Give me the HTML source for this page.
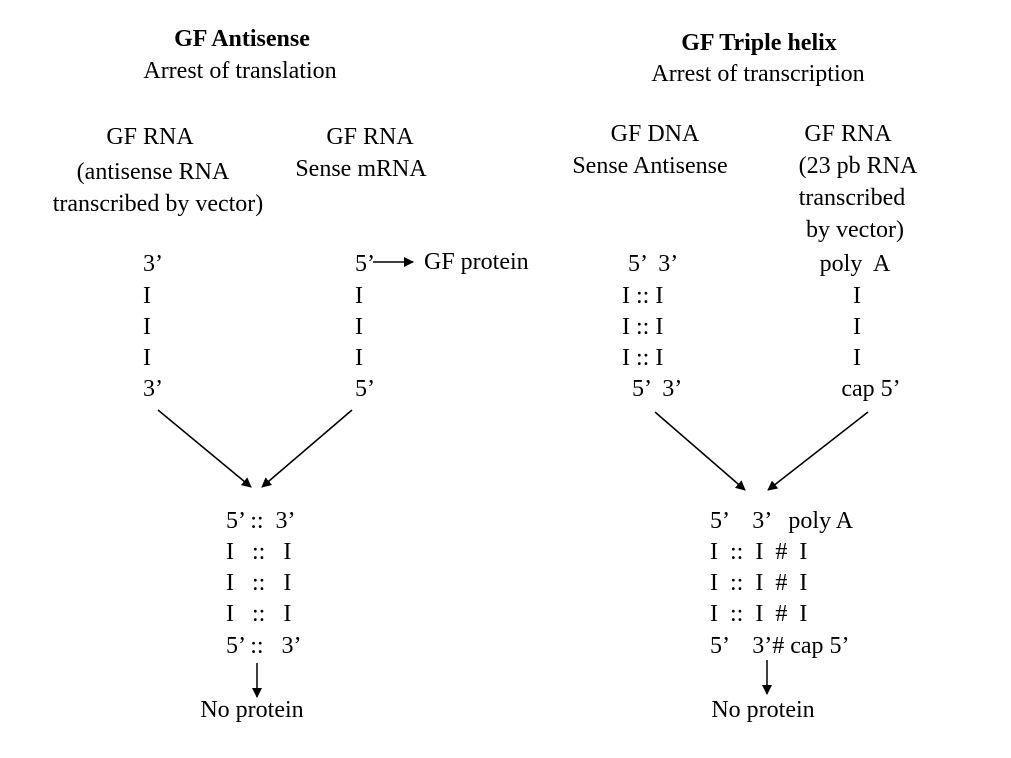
<!DOCTYPE html>
<html><head><style>
html,body{margin:0;padding:0;background:#fff}
svg{display:block}
text{font-family:"Liberation Serif",serif;font-size:24px;fill:#000;white-space:pre}
</style></head><body>
<svg width="1011" height="758" xmlns="http://www.w3.org/2000/svg">
<defs><marker id="a" markerWidth="10" markerHeight="10" refX="9" refY="5" orient="auto" markerUnits="userSpaceOnUse"><path d="M0,0 L10,5 L0,10 z" fill="#000"/></marker></defs>
<g text-anchor="middle">
<text x="242" y="46" font-weight="bold">GF Antisense</text>
<text x="240" y="78">Arrest of translation</text>
<text x="150" y="144">GF RNA</text>
<text x="153" y="179">(antisense RNA</text>
<text x="158" y="211">transcribed by vector)</text>
<text x="370" y="144">GF RNA</text>
<text x="361" y="176">Sense mRNA</text>
<text x="759" y="50" font-weight="bold">GF Triple helix</text>
<text x="758" y="81">Arrest of transcription</text>
<text x="655" y="141">GF DNA</text>
<text x="650" y="173">Sense Antisense</text>
<text x="848" y="141">GF RNA</text>
<text x="858" y="173">(23 pb RNA</text>
<text x="852" y="205">transcribed</text>
<text x="855" y="237">by vector)</text>
<text x="855" y="271">poly  A</text>
<text x="857" y="303">I</text>
<text x="857" y="334">I</text>
<text x="857" y="365">I</text>
<text x="871" y="396">cap 5’</text>
<text x="252" y="717">No protein</text>
<text x="763" y="717">No protein</text>
</g>
<text x="143" y="271">3’</text>
<text x="143" y="303">I</text>
<text x="143" y="334">I</text>
<text x="143" y="365">I</text>
<text x="143" y="396">3’</text>
<text x="355" y="271">5’</text>
<text x="355" y="303">I</text>
<text x="355" y="334">I</text>
<text x="355" y="365">I</text>
<text x="355" y="396">5’</text>
<text x="424" y="269">GF protein</text>
<line x1="373" y1="262" x2="413" y2="262" stroke="#000" stroke-width="1.5" marker-end="url(#a)"/>
<text x="628" y="271">5’  3’</text>
<text x="622" y="303">I :: I</text>
<text x="622" y="334">I :: I</text>
<text x="622" y="365">I :: I</text>
<text x="632" y="396">5’  3’</text>
<line x1="158" y1="410" x2="251" y2="487" stroke="#000" stroke-width="1.5" marker-end="url(#a)"/>
<line x1="352" y1="410" x2="262" y2="487" stroke="#000" stroke-width="1.5" marker-end="url(#a)"/>
<line x1="655" y1="412" x2="745" y2="490" stroke="#000" stroke-width="1.5" marker-end="url(#a)"/>
<line x1="868" y1="412" x2="768" y2="490" stroke="#000" stroke-width="1.5" marker-end="url(#a)"/>
<text x="226" y="528">5’ ::  3’</text>
<text x="226" y="559">I   ::   I</text>
<text x="226" y="590">I   ::   I</text>
<text x="226" y="621">I   ::   I</text>
<text x="226" y="653">5’ ::   3’</text>
<line x1="257" y1="663" x2="257" y2="697" stroke="#000" stroke-width="1.5" marker-end="url(#a)"/>
<text x="710" y="528">5’    3’   poly A</text>
<text x="710" y="559">I  ::  I  #  I</text>
<text x="710" y="590">I  ::  I  #  I</text>
<text x="710" y="621">I  ::  I  #  I</text>
<text x="710" y="653">5’    3’# cap 5’</text>
<line x1="767" y1="660" x2="767" y2="694" stroke="#000" stroke-width="1.5" marker-end="url(#a)"/>
</svg>
</body></html>
